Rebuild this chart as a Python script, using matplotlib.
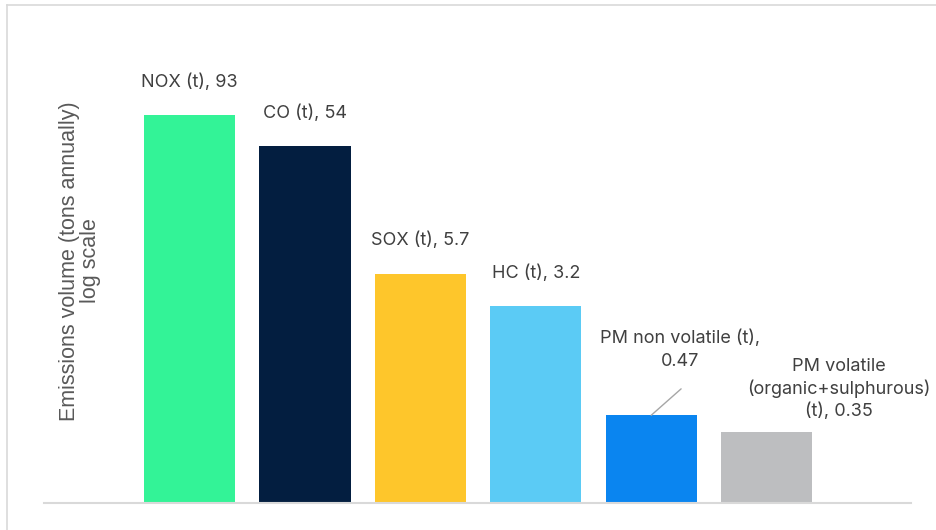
import matplotlib
matplotlib.use("Agg")
import matplotlib.pyplot as plt
from matplotlib.lines import Line2D

# emissions per pollutant, tons per year
pollutants = ["NOX", "CO", "SOX", "HC", "PM non volatile", "PM volatile"]
values = [93, 54, 5.7, 3.2, 0.47, 0.35]
bar_labels = [
    "NOX (t), 93",
    "CO (t), 54",
    "SOX (t), 5.7",
    "HC (t), 3.2",
    "PM non volatile (t),\n0.47",
    "PM volatile\n(organic+sulphurous)\n(t), 0.35",
]
colors = ["#33F397", "#031E40", "#FEC62B", "#5BCBF5", "#0A85F0", "#BDBEC0"]

text_color = "#404040"
line_color = "#D9D9D9"

W, H = 936, 530
fig = plt.figure(figsize=(W / 100, H / 100), dpi=100)
ax = fig.add_axes([44 / W, 27 / H, 867 / W, 483 / H])

x = list(range(len(values)))
ax.bar(x, values, width=0.79, color=colors, bottom=0)
ax.set_yscale("log")
ax.set_ylim(0.1, 500)
ax.set_xlim(-1.26, 6.25)

for s in ["top", "right", "left"]:
    ax.spines[s].set_visible(False)
ax.spines["bottom"].set_color(line_color)
ax.spines["bottom"].set_linewidth(1.5)
ax.set_xticks([])
ax.set_yticks([])
ax.yaxis.set_minor_locator(matplotlib.ticker.NullLocator())

font = "Inter"
fs = 13
# plain labels sit centred above their bars
for i in range(4):
    ax.annotate(bar_labels[i], (x[i], values[i]), xytext=(0, 24),
                textcoords="offset points", ha="center", va="center",
                fontsize=fs, color=text_color, family=font)

# the two small PM bars get labels pushed to the right
ax.annotate(bar_labels[4], (x[4], values[4]), xytext=(21, 47),
            textcoords="offset points", ha="center", va="center",
            fontsize=fs, color=text_color, family=font, linespacing=1.45)
ax.annotate("", (x[4], values[4]), xytext=(21.5, 19),
            textcoords="offset points",
            arrowprops=dict(arrowstyle="-", color="#A6A6A6", lw=1,
                            shrinkA=0, shrinkB=0))
ax.annotate(bar_labels[5], (x[5], values[5]), xytext=(52, 31),
            textcoords="offset points", ha="center", va="center",
            fontsize=fs, color=text_color, family=font, linespacing=1.32)

fig.text(80 / W, 1 - 261 / H, "Emissions volume (tons annually)\nlog scale",
         rotation=90, ha="center", va="center", fontsize=15.5,
         color="#595959", family="Liberation Sans", linespacing=0.95)

# light frame around the chart area
fig.add_artist(Line2D([7.5 / W, 7.5 / W], [0, 1 - 4.5 / H],
                      transform=fig.transFigure, color=line_color, lw=1.2))
fig.add_artist(Line2D([7.5 / W, 1], [1 - 4.5 / H, 1 - 4.5 / H],
                      transform=fig.transFigure, color=line_color, lw=1.2))

fig.savefig("out.png", dpi=100)
